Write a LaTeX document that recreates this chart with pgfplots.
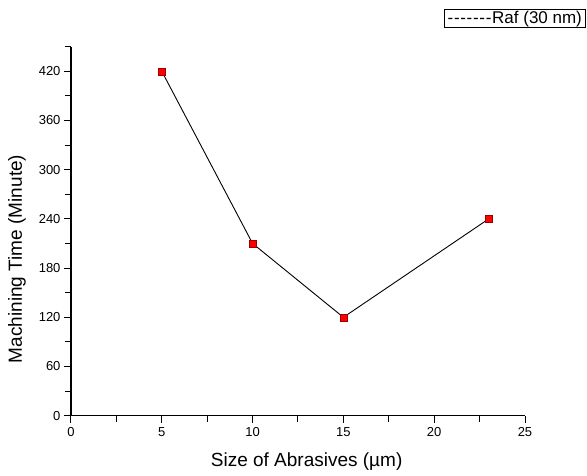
\documentclass[border=0pt]{standalone}
\usepackage{pgfplots}
\pgfplotsset{compat=1.18}
\usepackage{fontspec}
\setmainfont{Liberation Sans}
\newcommand\hy{\mbox{-}\kern0.7pt}
\begin{document}
\begin{tikzpicture}
\path[use as bounding box] (-71pt,-59.3pt) rectangle (516pt,415.7pt);
\begin{axis}[
  at={(0pt,0pt)}, anchor=south west,
  scale only axis, width=454pt, height=369pt,
  xmin=0, xmax=25, ymin=0, ymax=450,
  axis x line*=bottom, axis y line*=left,
  xtick={0,5,...,25}, ytick={0,60,...,480},
  minor x tick num=1, minor y tick num=1,
  tick align=outside, major tick length=7pt, minor tick length=6pt,
  axis line style={line width=1.3pt},
  every tick/.style={line width=1pt, black},
  ticklabel style={font=\fontsize{13}{15}\selectfont},
  xticklabel style={yshift=-1pt},
  /pgf/number format/assume math mode=true,
  xlabel={Size of Abrasives (µm)},
  ylabel={Machining Time (Minute)},
  label style={font=\fontsize{19}{21}\selectfont},
  x label style={at={(axis description cs:0.519,-0.125)}, anchor=center},
  y label style={at={(axis description cs:-0.119,0.425)}, anchor=center},
  legend image code/.code={},
  legend style={at={(axis description cs:1.134,1.102)}, anchor=north east,
    draw=black, line width=0.8pt, font=\fontsize{17}{19}\selectfont,
    inner xsep=1.5pt, inner ysep=0pt},
  clip=false,
]
\addplot[black, line width=0.9pt, mark=square*, mark size=3.5pt,
  mark options={fill=red, draw=red!60!black, line width=0.5pt}]
  coordinates {(5,420) (10,210) (15,120) (23,240)};
\addlegendentry{\hy\hy\hy\hy\hy\hy\hy Raf (30 nm)}
\end{axis}
\end{tikzpicture}
\end{document}
